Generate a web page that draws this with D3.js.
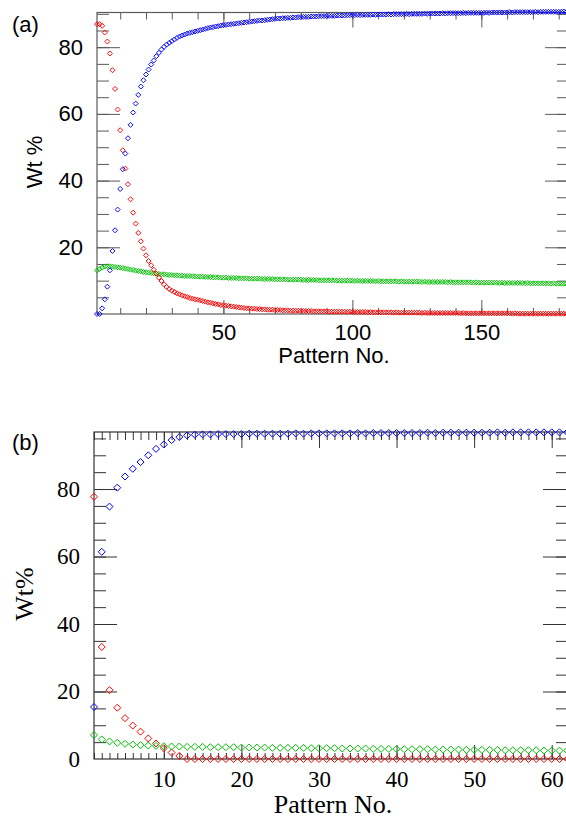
<!DOCTYPE html>
<html>
<head>
<meta charset="utf-8">
<script src="https://cdn.jsdelivr.net/npm/d3@7"></script>
<style>
  html, body { margin: 0; padding: 0; background: #fff; }
  svg { display: block; }
</style>
</head>
<body>
<div id="chart"></div>
<script>
// Panel (a): weight % per pattern number, 1..183
const blueA = [
  0, 0, 1.7, 4.4, 8.2, 13.1, 18.9, 25.1, 31.3, 37.5,
  43.4, 48.1, 52.7, 56.7, 60.4, 63.1, 65.7, 68.2, 70.1, 71.8,
  73.3, 74.8, 76.0, 77.3, 78.3, 79.3, 80.1, 80.8, 81.3, 81.8,
  82.3, 82.8, 83.2, 83.5, 83.8, 84.1, 84.3, 84.5, 84.7, 84.9,
  85.1, 85.3, 85.5, 85.7, 85.9, 86.0, 86.2, 86.3, 86.5, 86.6,
  86.7, 86.8, 86.9, 87.0, 87.1, 87.2, 87.3, 87.4, 87.5, 87.6,
  87.7, 87.8, 87.9, 88.0, 88.0, 88.1, 88.2, 88.3, 88.4, 88.5,
  88.6, 88.6, 88.7, 88.7, 88.8, 88.8, 88.9, 88.9, 89.0, 89.0,
  89.1, 89.1, 89.1, 89.2, 89.2, 89.2, 89.3, 89.3, 89.3, 89.4,
  89.4, 89.4, 89.4, 89.5, 89.5, 89.5, 89.5, 89.6, 89.6, 89.6,
  89.6, 89.7, 89.6, 89.7, 89.7, 89.7, 89.7, 89.8, 89.7, 89.8,
  89.8, 89.8, 89.8, 89.9, 89.8, 89.9, 89.9, 89.9, 89.9, 89.9,
  90.0, 89.9, 90.0, 90.0, 90.0, 90.0, 90.0, 90.1, 90.0, 90.1,
  90.1, 90.1, 90.1, 90.1, 90.2, 90.1, 90.2, 90.2, 90.2, 90.2,
  90.2, 90.2, 90.3, 90.2, 90.3, 90.3, 90.3, 90.3, 90.3, 90.3,
  90.3, 90.4, 90.3, 90.4, 90.4, 90.4, 90.4, 90.4, 90.4, 90.4,
  90.5, 90.4, 90.5, 90.5, 90.5, 90.5, 90.5, 90.5, 90.5, 90.5,
  90.6, 90.5, 90.6, 90.6, 90.6, 90.6, 90.6, 90.6, 90.6, 90.6,
  90.6, 90.7, 90.6
];
const redA = [
  86.9, 86.9, 86.4, 84.4, 81.7, 78.1, 73.1, 67.5, 61.3, 55.1,
  49.1, 43.6, 38.9, 34.4, 30.4, 27.1, 24.3, 21.8, 19.6, 17.6,
  15.9, 14.6, 13.3, 12.1, 10.9, 9.9, 8.9, 8.1, 7.5, 7.0,
  6.6, 6.2, 5.9, 5.6, 5.3, 5.1, 4.8, 4.6, 4.4, 4.3,
  4.1, 3.9, 3.7, 3.5, 3.4, 3.2, 3.0, 2.9, 2.7, 2.6,
  2.5, 2.4, 2.3, 2.2, 2.1, 2.0, 1.9, 1.8, 1.7, 1.7,
  1.6, 1.6, 1.5, 1.5, 1.4, 1.4, 1.3, 1.3, 1.3, 1.2,
  1.2, 1.2, 1.1, 1.1, 1.1, 1.0, 1.0, 1.0, 1.0, 0.9,
  0.9, 0.9, 0.9, 0.9, 0.8, 0.8, 0.8, 0.8, 0.8, 0.8,
  0.7, 0.7, 0.7, 0.7, 0.7, 0.7, 0.7, 0.6, 0.7, 0.6,
  0.6, 0.6, 0.6, 0.6, 0.6, 0.5, 0.6, 0.5, 0.5, 0.5,
  0.5, 0.5, 0.5, 0.5, 0.5, 0.4, 0.5, 0.4, 0.4, 0.4,
  0.4, 0.4, 0.4, 0.4, 0.4, 0.4, 0.3, 0.4, 0.3, 0.3,
  0.3, 0.3, 0.3, 0.3, 0.3, 0.3, 0.3, 0.3, 0.3, 0.3,
  0.3, 0.2, 0.3, 0.2, 0.2, 0.2, 0.2, 0.2, 0.2, 0.2,
  0.2, 0.2, 0.2, 0.2, 0.2, 0.2, 0.2, 0.2, 0.2, 0.2,
  0.2, 0.1, 0.2, 0.1, 0.1, 0.1, 0.1, 0.1, 0.1, 0.1,
  0.1, 0.1, 0.1, 0.1, 0.1, 0.1, 0.1, 0.1, 0.1, 0.1,
  0.1, 0.1, 0.1
];
const greenA = [
  13.1, 13.5, 13.9, 14.2, 14.3, 14.3, 14.2, 14.1, 14.0, 13.9,
  13.8, 13.6, 13.5, 13.3, 13.2, 13.0, 12.9, 12.8, 12.6, 12.5,
  12.4, 12.3, 12.2, 12.1, 12.0, 11.9, 11.9, 11.8, 11.7, 11.7,
  11.6, 11.6, 11.5, 11.5, 11.4, 11.4, 11.4, 11.3, 11.3, 11.2,
  11.2, 11.2, 11.1, 11.1, 11.1, 11.0, 11.0, 11.0, 10.9, 10.9,
  10.9, 10.8, 10.8, 10.8, 10.8, 10.7, 10.7, 10.7, 10.7, 10.6,
  10.6, 10.6, 10.6, 10.6, 10.5, 10.5, 10.5, 10.5, 10.5, 10.4,
  10.4, 10.4, 10.4, 10.4, 10.3, 10.3, 10.3, 10.3, 10.3, 10.3,
  10.2, 10.2, 10.2, 10.2, 10.2, 10.2, 10.1, 10.1, 10.1, 10.1,
  10.1, 10.1, 10.1, 10.0, 10.0, 10.0, 10.0, 10.0, 10.0, 10.0,
  9.9, 10.0, 9.9, 9.9, 9.9, 9.9, 9.9, 9.9, 9.8, 9.9,
  9.8, 9.8, 9.8, 9.8, 9.8, 9.8, 9.8, 9.7, 9.8, 9.7,
  9.7, 9.7, 9.7, 9.7, 9.7, 9.7, 9.6, 9.7, 9.6, 9.6,
  9.6, 9.6, 9.6, 9.6, 9.6, 9.6, 9.5, 9.6, 9.5, 9.5,
  9.5, 9.5, 9.5, 9.5, 9.5, 9.5, 9.4, 9.5, 9.4, 9.4,
  9.4, 9.4, 9.4, 9.4, 9.4, 9.4, 9.3, 9.4, 9.3, 9.3,
  9.3, 9.3, 9.3, 9.3, 9.3, 9.3, 9.2, 9.3, 9.2, 9.2,
  9.2, 9.2, 9.2, 9.2, 9.2, 9.2, 9.1, 9.2, 9.1, 9.1,
  9.1, 9.1, 9.1
];

// Panel (b): weight % per pattern number, 1..62
const blueB = [
  15.4, 61.4, 74.8, 80.4, 83.7, 86.0, 88.0, 90.0, 91.9, 93.2,
  94.5, 95.4, 95.9, 96.1, 96.2, 96.2, 96.3, 96.3, 96.3, 96.3,
  96.4, 96.4, 96.4, 96.4, 96.4, 96.4, 96.5, 96.4, 96.5, 96.5,
  96.5, 96.5, 96.5, 96.5, 96.6, 96.5, 96.6, 96.6, 96.6, 96.6,
  96.6, 96.6, 96.6, 96.7, 96.6, 96.7, 96.7, 96.7, 96.7, 96.7,
  96.7, 96.7, 96.8, 96.7, 96.8, 96.8, 96.8, 96.8, 96.8, 96.8,
  96.8, 96.8
];
const redB = [
  77.7, 33.2, 20.4, 15.2, 12.1, 9.9, 8.1, 6.1, 4.6, 3.2,
  1.9, 0.9, 0, 0, 0, 0, 0, 0, 0, 0,
  0, 0, 0, 0, 0, 0, 0, 0, 0, 0,
  0, 0, 0, 0, 0, 0, 0, 0, 0, 0,
  0, 0, 0, 0, 0, 0, 0, 0, 0, 0,
  0, 0, 0, 0, 0, 0, 0, 0, 0, 0,
  0, 0
];
const greenB = [
  7.1, 5.8, 5.2, 4.8, 4.5, 4.3, 4.1, 4.0, 3.9, 3.8,
  3.7, 3.7, 3.6, 3.6, 3.6, 3.5, 3.5, 3.5, 3.5, 3.4,
  3.4, 3.4, 3.4, 3.3, 3.3, 3.3, 3.3, 3.3, 3.2, 3.2,
  3.2, 3.2, 3.1, 3.1, 3.1, 3.1, 3.0, 3.0, 3.0, 3.0,
  2.9, 2.9, 2.9, 2.9, 2.8, 2.8, 2.8, 2.8, 2.7, 2.7,
  2.7, 2.7, 2.7, 2.6, 2.6, 2.6, 2.6, 2.6, 2.5, 2.5,
  2.5, 2.5
];

const ticksXA = [50, 100, 150];
const ticksYA = [20, 40, 60, 80];
const ticksXB = [10, 20, 30, 40, 50, 60];
const ticksYB = [0, 20, 40, 60, 80];

const W = 566, H = 819;
const svg = d3.select('#chart').append('svg')
  .attr('width', W).attr('height', H)
  .attr('viewBox', `0 0 ${W} ${H}`);

// hollow square diamond
const diamond = {
  draw(ctx, size) {
    const r = Math.sqrt(size / 2);
    ctx.moveTo(0, -r); ctx.lineTo(r, 0); ctx.lineTo(0, r); ctx.lineTo(-r, 0); ctx.closePath();
  }
};

function panel(cfg) {
  const x = d3.scaleLinear().domain(cfg.xDomain).range([cfg.left, cfg.right]);
  const y = d3.scaleLinear().domain(cfg.yDomain).range([cfg.bottom, cfg.top]);
  const g = svg.append('g');
  const ax = g.append('g').attr('class', 'axes');

  const font = s => s.attr('font-family', cfg.font).attr('font-size', cfg.fontSize).attr('fill', '#000');
  const clean = s => {
    s.select('.domain').remove();
    s.selectAll('line').attr('stroke', cfg.axisColor).attr('stroke-width', 1);
  };

  const xMinor = d3.range(cfg.xMinorStep, cfg.xDomain[1], cfg.xMinorStep);
  const yMinor = d3.range(cfg.yMinorStep, cfg.yDomain[1], cfg.yMinorStep);
  const xMajor = d3.range(cfg.xMajorStep, cfg.xDomain[1], cfg.xMajorStep);
  const yMajor = d3.range(cfg.yMajorStep, cfg.yDomain[1], cfg.yMajorStep);

  // bottom
  ax.append('g').attr('transform', `translate(0,${cfg.bottom})`)
    .call(d3.axisBottom(x).tickValues(xMinor).tickSize(-cfg.tick.bMinor).tickFormat(''))
    .call(clean);
  ax.append('g').attr('transform', `translate(0,${cfg.bottom})`)
    .call(d3.axisBottom(x).tickValues(xMajor).tickSize(-cfg.tick.bMajor).tickFormat(''))
    .call(clean);
  ax.append('g').attr('transform', `translate(0,${cfg.bottom})`)
    .call(d3.axisBottom(x).tickValues(cfg.xTicks).tickSize(0).tickPadding(cfg.xPad).tickFormat(d3.format('d')))
    .call(clean)
    .call(s => s.selectAll('text').call(font));
  // top
  ax.append('g').attr('transform', `translate(0,${cfg.top})`)
    .call(d3.axisTop(x).tickValues(xMinor).tickSize(-cfg.tick.tMinor).tickFormat(''))
    .call(clean);
  ax.append('g').attr('transform', `translate(0,${cfg.top})`)
    .call(d3.axisTop(x).tickValues(xMajor).tickSize(-cfg.tick.tMajor).tickFormat(''))
    .call(clean);
  // left
  ax.append('g').attr('transform', `translate(${cfg.left},0)`)
    .call(d3.axisLeft(y).tickValues(yMinor).tickSize(-cfg.tick.lMinor).tickFormat(''))
    .call(clean);
  ax.append('g').attr('transform', `translate(${cfg.left},0)`)
    .call(d3.axisLeft(y).tickValues(yMajor).tickSize(-cfg.tick.lMajor).tickFormat(''))
    .call(clean);
  ax.append('g').attr('transform', `translate(${cfg.left},0)`)
    .call(d3.axisLeft(y).tickValues(cfg.yTicks).tickSize(0).tickPadding(cfg.yPad).tickFormat(d3.format('d')))
    .call(clean)
    .call(s => s.selectAll('text').call(font));
  // right
  ax.append('g').attr('transform', `translate(${cfg.right},0)`)
    .call(d3.axisRight(y).tickValues(yMinor).tickSize(-cfg.tick.rMinor).tickFormat(''))
    .call(clean);
  ax.append('g').attr('transform', `translate(${cfg.right},0)`)
    .call(d3.axisRight(y).tickValues(yMajor).tickSize(-cfg.tick.rMajor).tickFormat(''))
    .call(clean);

  // frame
  g.append('rect')
    .attr('x', cfg.left).attr('y', cfg.top)
    .attr('width', cfg.right - cfg.left).attr('height', cfg.bottom - cfg.top)
    .attr('fill', 'none').attr('stroke', cfg.axisColor).attr('stroke-width', 1.2);

  // series
  const sym = d3.symbol().type(diamond).size(cfg.markerSize);
  cfg.series.forEach(s => {
    g.append('g')
      .selectAll('path')
      .data(s.values.map((v, i) => ({ n: i + 1, v })))
      .join('path')
      .attr('d', sym)
      .attr('transform', d => `translate(${x(d.n)},${y(d.v)})`)
      .attr('fill', 'none')
      .attr('stroke', s.color)
      .attr('stroke-width', cfg.markerStroke);
  });

  // titles
  g.append('text')
    .attr('x', cfg.xTitleX).attr('y', cfg.xTitleY)
    .attr('text-anchor', 'middle')
    .attr('font-family', cfg.font).attr('font-size', cfg.titleSize)
    .text('Pattern No.');
  g.append('text')
    .attr('transform', `translate(${cfg.yTitleX},${cfg.yTitleY}) rotate(-90)`)
    .attr('text-anchor', 'middle')
    .attr('font-family', cfg.font).attr('font-size', cfg.titleSize)
    .text(cfg.yTitle);
  g.append('text')
    .attr('x', 12).attr('y', cfg.tagY)
    .attr('font-family', 'Liberation Sans, Arial, sans-serif').attr('font-size', 22)
    .text(cfg.tag);
}

panel({
  left: 97, right: 568, top: 12.5, bottom: 314,
  xDomain: [1, 183.6], yDomain: [0, 90.4],
  xMinorStep: 10, xMajorStep: 50, yMinorStep: 5, yMajorStep: 20,
  xTicks: ticksXA, yTicks: ticksYA,
  tick: { bMinor: 6, bMajor: 14, tMinor: 7, tMajor: 15, lMinor: 12, lMajor: 23, rMinor: 11, rMajor: 23 },
  axisColor: '#5a5a5a',
  font: 'Liberation Sans, Arial, sans-serif', fontSize: 22, titleSize: 22,
  xPad: 10, yPad: 14,
  xTitleX: 334, xTitleY: 363,
  yTitle: 'Wt %', yTitleX: 42, yTitleY: 162,
  tag: '(a)', tagY: 32,
  markerSize: 12.5, markerStroke: 0.95,
  series: [
    { values: greenA, color: '#00c000' },
    { values: redA, color: '#ff0000' },
    { values: blueA, color: '#0000ff' }
  ]
});

panel({
  left: 94, right: 568, top: 432, bottom: 759,
  xDomain: [1, 62.1], yDomain: [0, 96.9],
  xMinorStep: 1, xMajorStep: 10, yMinorStep: 5, yMajorStep: 20,
  xTicks: ticksXB, yTicks: ticksYB,
  tick: { bMinor: 6, bMajor: 14, tMinor: 8, tMajor: 16, lMinor: 12, lMajor: 23, rMinor: 12, rMajor: 25 },
  axisColor: '#333',
  font: 'Liberation Serif, Times New Roman, serif', fontSize: 23, titleSize: 26,
  xPad: 12, yPad: 14,
  xTitleX: 333, xTitleY: 813,
  yTitle: 'Wt%', yTitleX: 33, yTitleY: 594,
  tag: '(b)', tagY: 450,
  markerSize: 24.5, markerStroke: 1,
  series: [
    { values: blueB, color: '#0000ff' },
    { values: redB, color: '#ff0000' },
    { values: greenB, color: '#00c000' }
  ]
});
</script>
</body>
</html>
